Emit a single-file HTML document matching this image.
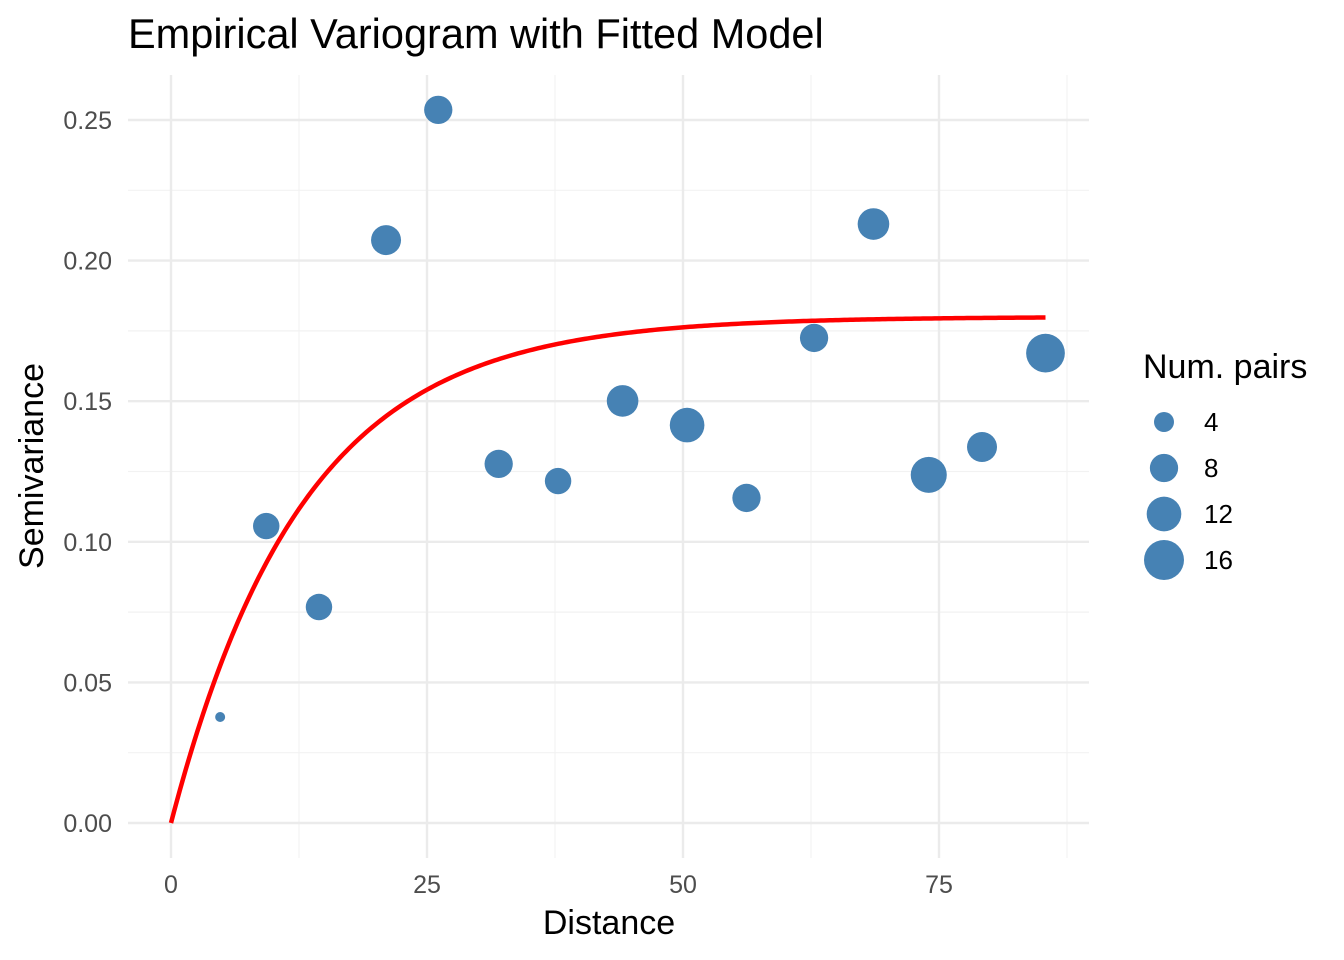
<!DOCTYPE html>
<html><head><meta charset="utf-8"><style>
body{margin:0;background:#fff;}
svg{display:block;font-family:"Liberation Sans",sans-serif;}
</style></head><body>
<svg id="chart" width="1344" height="960">
<text x="128" y="48" font-size="41.5" fill="#000">Empirical Variogram with Fitted Model</text>
<g id="grid"></g><g id="curve"></g><g id="pts"></g><g id="axes"></g><g id="legend"></g>
<text x="609" y="934" font-size="34" text-anchor="middle" fill="#000">Distance</text>
<text transform="translate(43,466) rotate(-90)" font-size="34" text-anchor="middle" fill="#000">Semivariance</text>
</svg>
<script>
const distances=[4.8,9.3,14.45,21.0,26.1,32.0,37.8,44.1,50.4,56.2,62.8,68.6,74.0,79.2,85.4];
const gammas=[0.0377,0.1056,0.0768,0.2073,0.2536,0.1277,0.1216,0.1501,0.1415,0.1156,0.1725,0.2130,0.1238,0.1337,0.1671];
const pairs=[1,7,7,9,8,8,7,10,12,8,8,10,13,9,15];
const xTicks=[0,25,50,75];
const yTicks=[0,0.05,0.10,0.15,0.20,0.25];
const yTickLabels=["0.00","0.05","0.10","0.15","0.20","0.25"];
const legendSizes=[4,8,12,16];
const modelSill=0.18, modelRange=12.9, modelMax=85.4;

const NS="http://www.w3.org/2000/svg";
const X=v=>171+v*10.24;
const Y=v=>823-v*2812;
const R=n=>5*Math.sqrt(n);
function mk(tag,attrs,parent){const e=document.createElementNS(NS,tag);for(const k in attrs)e.setAttribute(k,attrs[k]);document.getElementById(parent).appendChild(e);return e;}
const L=128,Rt=1089,T=75,B=858;
for(let i=0;i<xTicks.length;i++){const v=xTicks[i]+12.5;
 const g=mk('line',{x1:X(v),x2:X(v),y1:T,y2:B,stroke:'#f2f2f2','stroke-width':1.2},'grid');
 
 }
for(let i=0;i<yTicks.length-1;i++){const v=yTicks[i]+0.025;
 const g=mk('line',{x1:L,x2:Rt,y1:Y(v),y2:Y(v),stroke:'#f2f2f2','stroke-width':1.2},'grid');
 
 }
xTicks.forEach(v=>{
 const g=mk('line',{x1:X(v),x2:X(v),y1:T,y2:B,stroke:'#ebebeb','stroke-width':2.4},'grid');
 
 
 const t=mk('text',{x:X(v),y:893,'font-size':25,fill:'#4d4d4d','text-anchor':'middle'},'axes');t.textContent=v;
 
 });
yTicks.forEach((v,i)=>{
 const g=mk('line',{x1:L,x2:Rt,y1:Y(v),y2:Y(v),stroke:'#ebebeb','stroke-width':2.4},'grid');
 
 
 const t=mk('text',{x:112,y:Y(v)+9,'font-size':25,fill:'#4d4d4d','text-anchor':'end'},'axes');t.textContent=yTickLabels[i];
 
 });
let d='';for(let i=0;i<=300;i++){const h=modelMax*i/300;const g=modelSill*(1-Math.exp(-h/modelRange));d+=(i?'L':'M')+X(h).toFixed(2)+','+Y(g).toFixed(2);}
const c=mk('path',{d:d,fill:'none',stroke:'#ff0000','stroke-width':4.5},'curve');


distances.forEach((h,i)=>{
 const p=mk('circle',{cx:X(h),cy:Y(gammas[i]),r:R(pairs[i]),fill:'#4682b4'},'pts');
 
 });
const lt=mk('text',{x:1143,y:378,'font-size':34,fill:'#000'},'legend');lt.textContent='Num. pairs';


legendSizes.forEach((n,i)=>{const cy=422+i*46;
 const k=mk('circle',{cx:1164,cy:cy,r:R(n),fill:'#4682b4'},'legend');
 
 
 const t=mk('text',{x:1204,y:cy+9,'font-size':26,fill:'#000'},'legend');t.textContent=n;
 
 });
</script>
</body></html>
